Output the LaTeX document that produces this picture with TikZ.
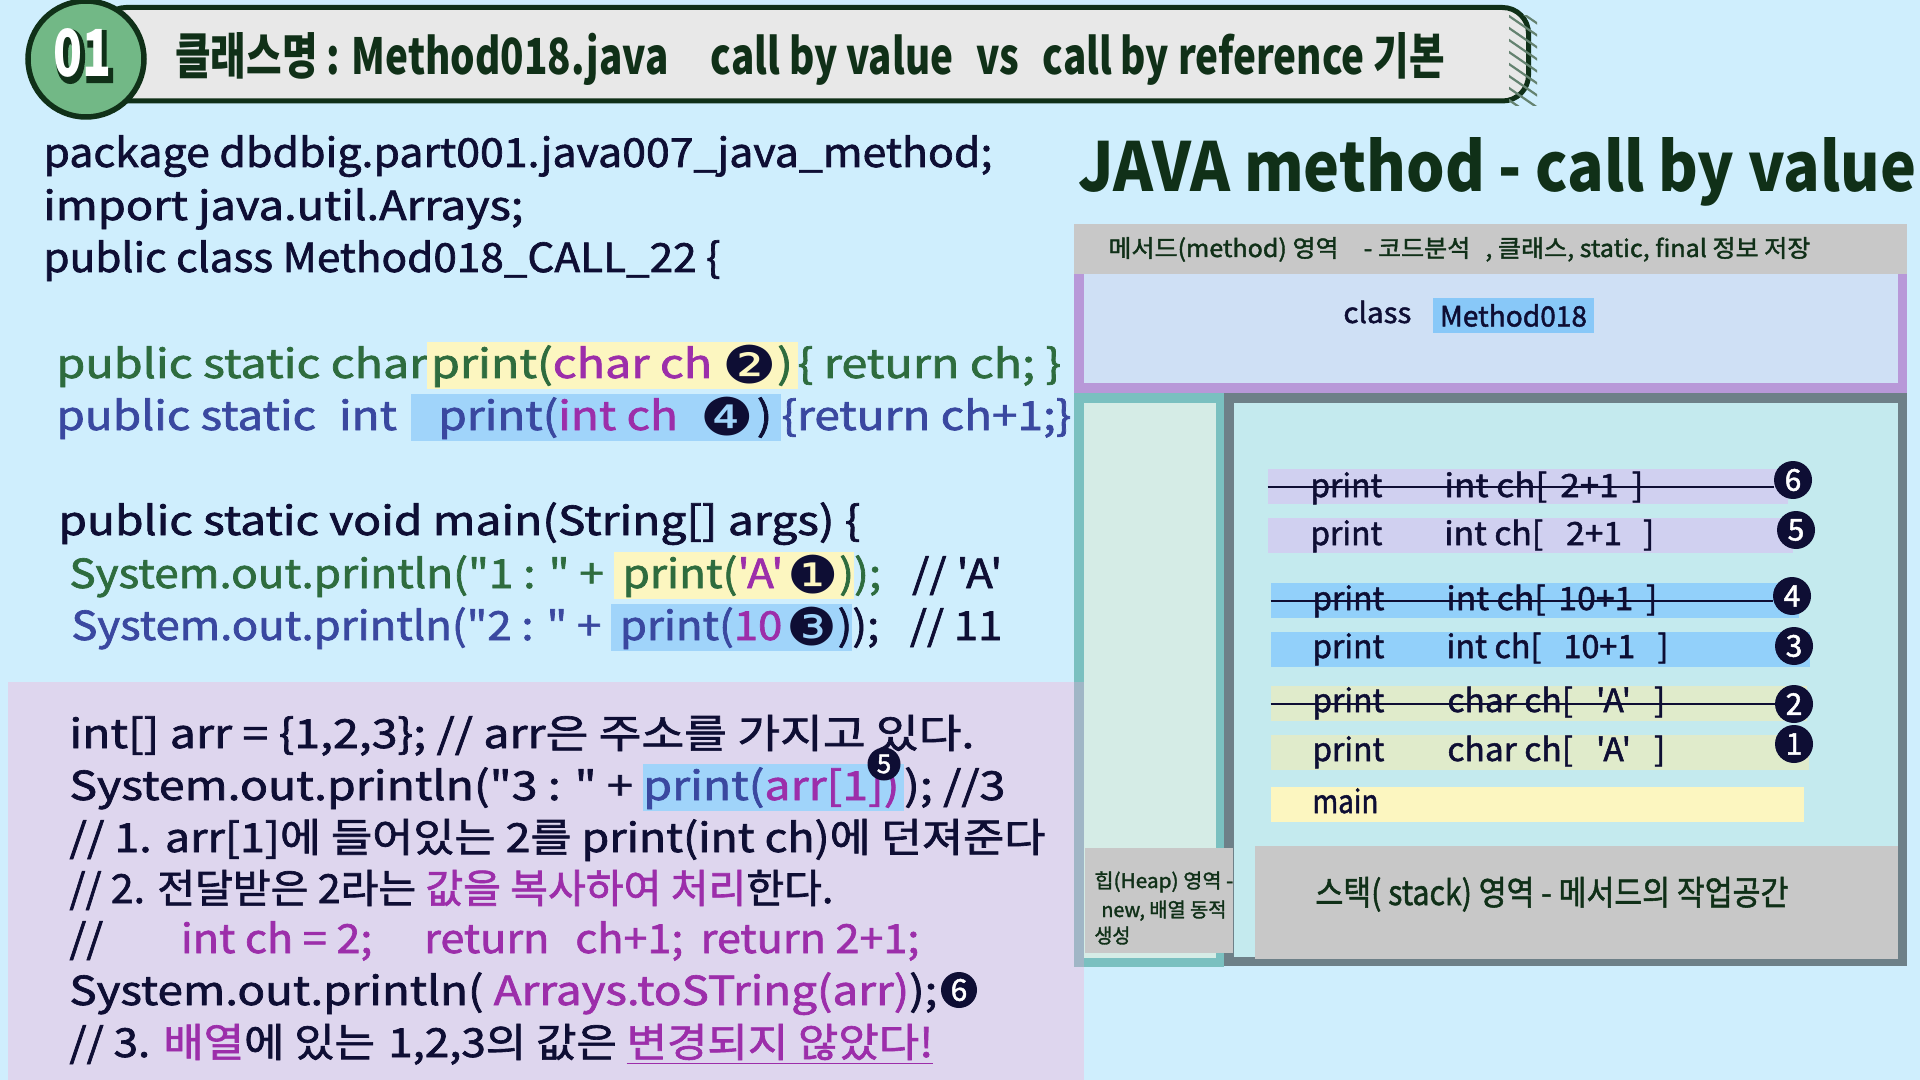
\documentclass[tikz,border=0pt]{standalone}
\usepackage{fontspec}
\usepackage{graphicx}
\usepackage{xfp}
\setmainfont{Noto Sans CJK KR}
\newfontfamily\codefont{Noto Sans CJK KR}[Ligatures=TeXOff, FakeBold=1.6]
\newfontfamily\headfont{Noto Sans CJK KR}
\newfontfamily\headfontol{Noto Sans CJK KR}[FakeBold=9]
\newfontfamily\dvsym{DejaVu Sans}

\definecolor{bg}{RGB}{207,238,253}
\definecolor{hdgreen}{RGB}{16,48,24}
\definecolor{hdgray}{RGB}{232,232,232}
\definecolor{circgreen}{RGB}{114,184,134}
\definecolor{hatchc}{RGB}{100,130,112}
\definecolor{navy}{RGB}{14,14,52}
\definecolor{codegreen}{RGB}{46,108,62}
\definecolor{codeblue}{RGB}{58,72,160}
\definecolor{codepurple}{RGB}{156,46,170}
\definecolor{hly}{RGB}{252,246,192}
\definecolor{hlb}{RGB}{160,212,250}
\definecolor{lav}{RGB}{222,214,238}
\definecolor{mixstrip}{RGB}{160,182,198}
\definecolor{mgray}{RGB}{200,200,200}
\definecolor{mpurple}{RGB}{184,152,216}
\definecolor{mfill}{RGB}{207,224,245}
\definecolor{clsblue}{RGB}{136,200,248}
\definecolor{heapedge}{RGB}{122,192,192}
\definecolor{heapfill}{RGB}{213,236,230}
\definecolor{stackedge}{RGB}{110,128,136}
\definecolor{stackfill}{RGB}{196,234,238}
\definecolor{rowlav}{RGB}{208,208,240}
\definecolor{rowblue}{RGB}{146,208,250}
\definecolor{rowgreen}{RGB}{224,235,203}
\definecolor{rowyellow}{RGB}{252,246,192}

% stretch a line horizontally to a width given in px (1px = 0.5pt)
\newsavebox\fitbox
\newcommand\fitw[2]{\sbox\fitbox{#2}%
  \edef\fitfac{\fpeval{(#1)/2/(\the\wd\fitbox)}}%
  \scalebox{\fitfac}[1]{\usebox\fitbox}}

\newcommand\cgr[1]{\textcolor{codegreen}{#1}}
\newcommand\cbl[1]{\textcolor{codeblue}{#1}}
\newcommand\cpu[1]{\textcolor{codepurple}{#1}}
\newcommand\hlbox[2]{{\setlength{\fboxsep}{0pt}\colorbox{#1}{\rule[-5.5pt]{0pt}{23.5pt}#2}}}
\newcommand\cnum[1]{\smash{\raisebox{-2.5pt}{\dvsym\fontsize{26}{26}\selectfont\textcolor{navy}{#1}}}}

% white digits over a heavy dark copy
\newcommand\outlined[1]{%
  \makebox[0pt][l]{\hspace*{0.5pt}\raisebox{-0.5pt}{\headfontol\bfseries\textcolor{hdgreen}{#1}}}%
  \textcolor{white}{\headfont\bfseries #1}}

\tikzset{
  code/.style={inner sep=0, anchor=base west, text=navy,
    font=\codefont\fontsize{20}{24}\selectfont},
  stk/.style={inner sep=0, anchor=base west, text=navy,
    font=\codefont\fontsize{16}{18}\selectfont},
  lbl/.style={inner sep=0, anchor=base west, text=hdgreen},
  rowbox/.style={inner sep=0, minimum height=17.5pt},
  numc/.style={circle, fill=navy, text=white, inner sep=0, minimum size=19pt,
    font=\codefont\fontsize{15}{15}\selectfont},
  smallnum/.style={numc, minimum size=16.5pt, font=\codefont\fontsize{13}{13}\selectfont},
  strike/.style={draw=navy, line width=1pt},
  hatch/.style={draw=hatchc, line width=1.1pt},
}

\begin{document}
\begin{tikzpicture}[x=0.5pt,y=-0.5pt]
\useasboundingbox (0,0) rectangle (1920,1080);
\clip (0,0) rectangle (1920,1080);
\fill[bg] (0,0) rectangle (1920,1080);

% ---------- header bar ----------
\draw[draw=hdgreen, line width=2.5pt, fill=hdgray, rounded corners=13pt]
  (100,7.5) rectangle (1528.5,101);
\begin{scope}
  \clip (1509,16) rectangle (1537,106);
  \foreach \k in {0,...,9}
    \draw[hatch] (1506,2+12*\k) -- (1538,24+12*\k);
\end{scope}
\node[circle, draw=hdgreen, line width=2.75pt, fill=circgreen, minimum size=58pt]
  (badge) at (86,59) {};
\node[inner sep=0] (badgenum) at (82.5,55)
  {\resizebox{29pt}{24pt}{\outlined{01}}};
\node[lbl, text=hdgreen] (htitle) at (175,75)
  {\resizebox{634.5pt}{21pt}{\headfont\bfseries 클래스명 : Method018.java\hspace{1.1em}call by value\hspace{0.6em}vs\hspace{0.6em}call by reference 기본}};

% ---------- title ----------
\node[lbl] (jtitle) at (1078,192)
  {\resizebox{419pt}{27pt}{\headfont\bfseries JAVA method - call by value}};

% ---------- method area ----------
\fill[mgray] (1074,224) rectangle (1907,274);
\fill[mpurple] (1074,274) rectangle (1907,393);
\fill[mfill] (1084,274) rectangle (1898,383);
\node[lbl, font=\codefont\fontsize{12}{14}\selectfont] (mtxt) at (1108,257)
  {\fitw{702}{메서드(method) 영역\hspace{1em}- 코드분석\hspace{0.6em}, 클래스, static, final 정보 저장}};
\node[stk, font=\codefont\fontsize{14}{16}\selectfont] (clsw) at (1343,323) {\fitw{68}{class}};
\node[fill=clsblue, inner sep=0, minimum width=80.5pt, minimum height=17.5pt, text=navy,
  font=\codefont\fontsize{14}{16}\selectfont] (clsname) at (1513.5,315.5) {\fitw{147}{Method018}};

% ---------- heap area ----------
\fill[heapedge] (1074,393) rectangle (1224,967);
\fill[heapfill] (1084,403) rectangle (1216,958);

% ---------- stack area ----------
\fill[stackedge] (1224,393) rectangle (1907,966);
\fill[stackfill] (1234,403) rectangle (1898,957);

\node[fill=mgray, inner sep=0, minimum width=74pt, minimum height=52.5pt] (heaplbl) at (1159,900.5) {};
\node[lbl, font=\codefont\fontsize{10}{12}\selectfont] (heapt1) at (1094,888) {\fitw{139}{힙(Heap) 영역 -}};
\node[lbl, font=\codefont\fontsize{10}{12}\selectfont] (heapt2) at (1101,917) {\fitw{125}{new, 배열 동적}};
\node[lbl, font=\codefont\fontsize{10}{12}\selectfont] (heapt3) at (1094,943) {\fitw{36}{생성}};

\node[fill=mgray, inner sep=0, minimum width=321.5pt, minimum height=56.5pt] (stklbl) at (1576.5,902.5) {};
\node[lbl, font=\codefont\fontsize{17}{20}\selectfont] (stkt) at (1315,905)
  {\fitw{473}{스택( stack) 영역 - 메서드의 작업공간}};

% stack frames
\node[rowbox, fill=rowlav, minimum width=260pt] (rb) at (1528,486.5) {};
\node[stk] (rbp) at (1310,497) {\fitw{72}{print}};
\node[stk] (rbv) at (1444,497) {\fitw{199}{int ch[\hspace{6pt}2+1\hspace{6pt}]}};
\node[numc] (nb) at (1793,480) {6};
\draw[strike] (rb.west) -- (rb.west -| nb.west);

\node[rowbox, fill=rowlav, minimum width=262.5pt] (r5) at (1530.5,535.5) {};
\node[stk] (r5p) at (1310,545) {\fitw{72}{print}};
\node[stk] (r5v) at (1444,545) {\fitw{210}{int ch[\hspace{11pt}2+1\hspace{10pt}]}};
\node[numc] (n5) at (1796,530) {5};

\node[rowbox, fill=rowblue, minimum width=264pt] (r4) at (1535,600.5) {};
\node[stk] (r4p) at (1312,610) {\fitw{72}{print}};
\node[stk] (r4v) at (1446,610) {\fitw{211}{int ch[\hspace{6pt}10+1\hspace{6pt}]}};
\node[numc] (n4) at (1792,596) {4};
\draw[strike] (r4.west) -- (r4.west -| n4.west);

\node[rowbox, fill=rowblue, minimum width=269.5pt] (r3) at (1540.5,649.5) {};
\node[stk] (r3p) at (1312,658) {\fitw{72}{print}};
\node[stk] (r3v) at (1446,658) {\fitw{222}{int ch[\hspace{11pt}10+1\hspace{11pt}]}};
\node[numc] (n3) at (1794,646) {3};

\node[rowbox, fill=rowgreen, minimum width=268pt] (r2) at (1539,703.5) {};
\node[stk] (r2p) at (1312,712) {\fitw{72}{print}};
\node[stk] (r2v) at (1447,712) {\fitw{218}{char ch[\hspace{11pt}'A'\hspace{11pt}]}};
\node[numc] (n2) at (1794,704) {2};
\draw[strike] (r2.west) -- (r2.west -| n2.west);

\node[rowbox, fill=rowgreen, minimum width=269pt] (r1) at (1540,752.5) {};
\node[stk] (r1p) at (1312,761) {\fitw{72}{print}};
\node[stk] (r1v) at (1447,761) {\fitw{218}{char ch[\hspace{11pt}'A'\hspace{11pt}]}};
\node[numc] (n1) at (1794,744) {1};

\node[rowbox, fill=rowyellow, minimum width=266.5pt] (rm) at (1537.5,804.5) {};
\node[stk] (rmp) at (1312,813) {\fitw{66}{main}};

% ---------- code panel ----------
\fill[lav] (8,682) rectangle (1084,1080);
\fill[mixstrip] (1074,682) rectangle (1084,967);

\node[code] (c1) at (43,167) {\fitw{949}{package dbdbig.part001.java007\_java\_method;}};
\node[code] (c2) at (43,220) {\fitw{480}{import java.util.Arrays;}};
\node[code] (c3) at (43,272) {\fitw{677}{public class Method018\_CALL\_22 \{}};

\node[code] (c4) at (56,378) {\fitw{1005}{\cgr{public static char}\hlbox{hly}{\hspace{1.5pt}\cgr{print(}\cpu{char ch }\cnum{❷}\cgr{)}\hspace{2pt}}\cgr{\{ return ch; \}}}};
\node[code] (c5) at (56,430) {\fitw{1015}{\cbl{public static\hspace{10pt}int\hspace{6pt}}\hlbox{hlb}{\hspace{12pt}\cbl{print(}\cpu{int ch}\hspace{10pt}\cnum{❹}\hspace{1pt})\hspace{4pt}}\cbl{\{return ch+1;\}}}};

\node[code] (c6) at (58,535) {\fitw{802}{public static void main(String[] args) \{}};
\node[code] (c7) at (69,588) {\fitw{933}{\cgr{System.out.println("1 : " + }\hlbox{hly}{\hspace{4pt}\cgr{print(}\cpu{'A'}\hspace{2pt}\cnum{❶}\cgr{)}}\cgr{);}\hspace{14pt}// 'A'}};
\node[code] (c8) at (71,640) {\fitw{931}{\cbl{System.out.println("2 : " + }\hlbox{hlb}{\hspace{4pt}\cbl{print(}\cpu{10}\hspace{2pt}\cnum{❸})});\hspace{14pt}// 11}};

\node[code] (c9) at (69,748) {\fitw{905}{int[] arr = \{1,2,3\}; // arr은 주소를 가지고 있다.}};
\node[code] (c10) at (69,800) {\fitw{936}{System.out.println("3 : " + \hlbox{hlb}{\cbl{print(}\cpu{arr[1])}\hspace{2pt}}); //3}};
\node[code] (c11) at (69,852) {\fitw{976}{// 1. arr[1]에 들어있는 2를 print(int ch)에 던져준다}};
\node[code] (c12) at (69,903) {\fitw{764}{// 2. 전달받은 2라는 \cpu{값을 복사하여 처리}한다.}};
\node[code] (c13) at (69,953) {\fitw{850}{//\hspace{36pt}\cpu{int ch = 2;\hspace{24pt}return\hspace{12pt}ch+1;\hspace{8pt}return 2+1;}}};
\node[code] (c14) at (69,1005) {\fitw{868}{System.out.println( \cpu{Arrays.toSTring(arr)});}};
\node[code] (c15) at (69,1057) {\fitw{864}{// 3. \cpu{배열}에 있는\hspace{6pt}1,2,3의 값은 \cpu{\underline{변경되지 않았다!}}}};

\node[smallnum] (n5code) at (884,764) {5};
\node[numc, minimum size=18pt] (n6code) at (959,990) {6};
\end{tikzpicture}
\end{document}
